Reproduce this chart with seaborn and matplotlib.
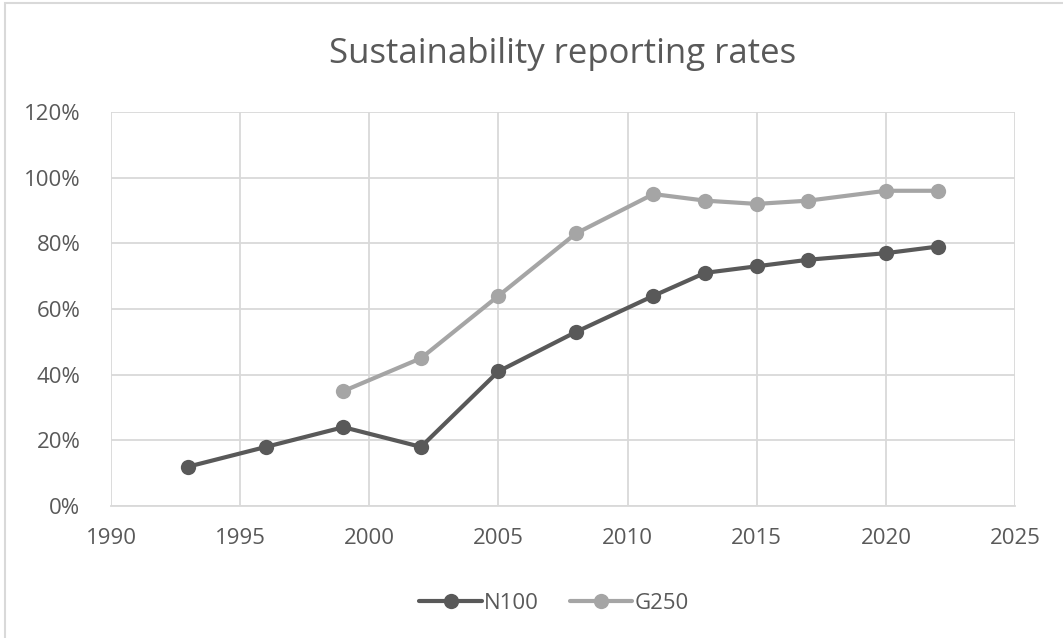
import matplotlib
matplotlib.use("Agg")
import matplotlib.pyplot as plt
import matplotlib.patches as mpatches
from matplotlib.ticker import PercentFormatter, MultipleLocator
import seaborn as sns
import pandas as pd

# Survey years and reporting rates (%)
n100_years = [1993, 1996, 1999, 2002, 2005, 2008, 2011, 2013, 2015, 2017, 2020, 2022]
n100_rates = [12, 18, 24, 18, 41, 53, 64, 71, 73, 75, 77, 79]
g250_years = [1999, 2002, 2005, 2008, 2011, 2013, 2015, 2017, 2020, 2022]
g250_rates = [35, 45, 64, 83, 95, 93, 92, 93, 96, 96]

series_names = ["N100", "G250"]
series_colors = ["#595959", "#A5A5A5"]

df = pd.concat([
    pd.DataFrame({"year": n100_years, "rate": n100_rates, "series": "N100"}),
    pd.DataFrame({"year": g250_years, "rate": g250_rates, "series": "G250"}),
])

sns.set_theme(style="white")
plt.rcParams["font.family"] = ["Open Sans", "DejaVu Sans"]
text_color = "#595959"
grid_color = "#D9D9D9"

fig = plt.figure(figsize=(10.63, 6.38), dpi=100)
ax = fig.add_axes([0.1044, 0.2069, 0.8505, 0.6176])

for name, color in zip(series_names, series_colors):
    sub = df[df["series"] == name]
    sns.lineplot(data=sub, x="year", y="rate", ax=ax, color=color, linewidth=3.0,
                 marker="o", markersize=11, markeredgewidth=0, label=name,
                 solid_capstyle="round")

ax.set_xlim(1990, 2025)
ax.set_ylim(0, 120)
ax.xaxis.set_major_locator(MultipleLocator(5))
ax.yaxis.set_major_locator(MultipleLocator(20))
ax.yaxis.set_major_formatter(PercentFormatter(decimals=0))
ax.grid(True, color=grid_color, linewidth=1.3)
ax.set_axisbelow(True)
for side in ["top", "right", "left"]:
    ax.spines[side].set_visible(False)
ax.spines["bottom"].set_color(grid_color)
ax.spines["bottom"].set_linewidth(1.3)
ax.set_xlabel("")
ax.set_ylabel("")
ax.tick_params(axis="both", length=0, labelsize=16, colors=text_color)
ax.tick_params(axis="x", pad=16)
ax.tick_params(axis="y", pad=22)

ax.set_title("Sustainability reporting rates", fontsize=25, color=text_color, pad=35)

leg = ax.legend(loc="upper center", bbox_to_anchor=(0.49, -0.17), ncol=2, frameon=False,
                fontsize=16, handlelength=2.8, columnspacing=1.4, handletextpad=0.1)
for t in leg.get_texts():
    t.set_color(text_color)

fig.patches.append(mpatches.Rectangle((0.0047, -0.01), 1.0, 1.005, transform=fig.transFigure,
                                      fill=False, edgecolor="#D9D9D9", linewidth=1.5))

fig.savefig("out.png", dpi=100)
